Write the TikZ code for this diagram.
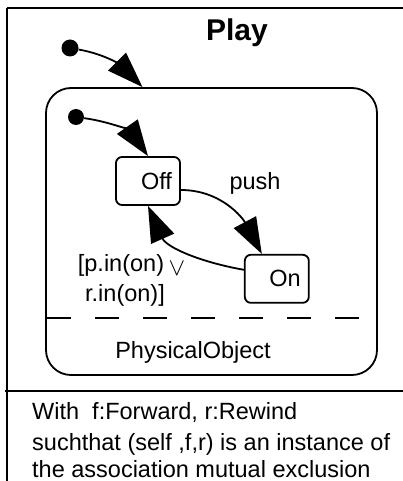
\documentclass[tikz,border=0pt]{standalone}
\usepackage{fontspec}
\setmainfont{Liberation Sans}
\usetikzlibrary{arrows.meta,positioning}
\def\StateW{48pt}
\def\StateH{48pt}

\begin{document}
\begin{tikzpicture}[x=1pt,y=1pt,
	every node/.style={font=\fontsize{23.5}{29}\selectfont},
	line/.style={line width=1.8pt},
	trans/.style={line width=1.8pt,-{Triangle[length=36pt,width=25pt]}},
	state/.style={draw,line width=1.8pt,rounded corners=6pt,minimum height=\StateH,
		text width=\StateW,inner xsep=8pt,align=right},
	startdot/.style={circle,fill,inner sep=0pt,minimum size=17pt}]
	\useasboundingbox (0,0) rectangle (403,-481);
	% frame of the class box
	\draw[line] (7,-8) -- (405,-8);
	\draw[line] (7,-8) -- (7,-483);
	\draw[line] (5,-391) -- (405,-391);
	\node[font=\bfseries\fontsize{30}{36}\selectfont] (title) at (237,-33) {Play};
	% composite state
	\node[draw,line width=1.8pt,rounded corners=25pt,minimum width=331pt,minimum height=287pt,inner sep=0pt] (physobj) at (211.5,-231.5) {};
	\draw[line,dash pattern=on 24pt off 24pt,dash phase=46pt] (physobj.west |- 0,-318) -- (physobj.east |- 0,-318);
	\node (objlbl) at (193,-352) {PhysicalObject};
	\node[startdot] (dot1) at (70,-48) {};
	\node[startdot,minimum size=16pt] (dot2) at (76,-117) {};
	\node[state] (off) at (148,-181) {Off};
	\node[state,below right=48pt and 63pt of off] (on) {On};
	\draw[trans] (dot1) to[out=-10,in=135] ([xshift=-69pt]physobj.north);
	\draw[trans] (dot2) to[out=-8,in=125] (off.north);
	\draw[trans] ([yshift=-9pt]off.east) to[out=0,in=118] ([xshift=-15pt]on.north);
	\draw[trans] ([yshift=9pt]on.west) to[out=170,in=-66] (off.south);
	\node (pushlbl) at (255,-183) {push};
	\node (guardtop) at (121,-265) {[p.in(on)};
	\node[font=\fontsize{23}{26}\selectfont] (guardvee) at (177,-269) {$\vee$};
	\node (guardbot) at (125,-295) {r.in(on)]};
	% constraint text
	\node[anchor=base west,inner sep=0pt] (with1) at (32,-419) {With\ \ f:Forward, r:Rewind};
	\node[anchor=base west,inner sep=0pt] (with2) at (32,-450) {suchthat (self ,f,r) is an instance of};
	\node[anchor=base west,inner sep=0pt] (with3) at (32,-477) {the association mutual exclusion};
\end{tikzpicture}
\end{document}
